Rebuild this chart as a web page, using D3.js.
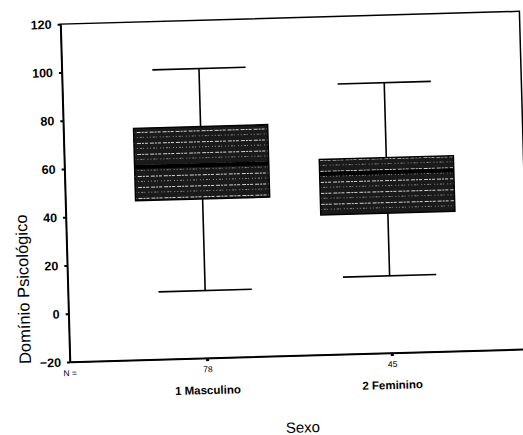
<!DOCTYPE html>
<html>
<head>
<meta charset="utf-8">
<script src="https://cdn.jsdelivr.net/npm/d3@7"></script>
<style>
  body { margin: 0; background: #fff; }
  svg { display: block; }
</style>
</head>
<body>
<div id="chart"></div>
<script>
// ------------------------------------
// Data
// ------------------------------------
const categories = ["1 Masculino", "2 Feminino"];
const nValues = [78, 45];
const minVals = [8, 12];
const q1Vals = [46, 38];
const medianVals = [60, 55];
const q3Vals = [76, 61];
const maxVals = [100, 92];
const yTicks = [-20, 0, 20, 40, 60, 80, 100, 120];

const width = 523, height = 435;
const plotLeft = 70, plotRight = 529, plotTop = 24, plotBottom = 362;

const svg = d3.select("#chart").append("svg")
    .attr("width", width)
    .attr("height", height);

// hatched fill like the scanned SPSS boxes
const defs = svg.append("defs");
const pat = defs.append("pattern")
    .attr("id", "hatch")
    .attr("patternUnits", "userSpaceOnUse")
    .attr("width", 13).attr("height", 11);
pat.append("rect").attr("width", 13).attr("height", 11).attr("fill", "#1a1a1a");
pat.append("line").attr("x1", 0).attr("x2", 13).attr("y1", 2.5).attr("y2", 2.5)
    .attr("stroke", "#e8e8e8").attr("stroke-width", 0.9).attr("stroke-dasharray", "4,1,2,1,3,2");
pat.append("line").attr("x1", 0).attr("x2", 13).attr("y1", 7.5).attr("y2", 7.5)
    .attr("stroke", "#bbb").attr("stroke-width", 0.7).attr("stroke-dasharray", "1,2,2,1,1,3");

// the scan is tilted a little, so the whole chart is rotated
const g = svg.append("g")
    .attr("transform", `rotate(-1.6, ${plotLeft}, ${plotBottom})`);

const x = d3.scalePoint()
    .domain(categories)
    .range([plotLeft, plotRight])
    .padding(0.742);

const y = d3.scaleLinear()
    .domain([-20, 120])
    .range([plotBottom, plotTop]);

const step = x.step();
const boxW = step * 0.726;
const capW = step * 0.505;

// frame
g.append("rect")
    .attr("x", plotLeft).attr("y", plotTop)
    .attr("width", plotRight - plotLeft).attr("height", plotBottom - plotTop)
    .attr("fill", "none").attr("stroke", "#000").attr("stroke-width", 1.5);

// y axis
const yAxis = g.append("g")
    .attr("transform", `translate(${plotLeft},0)`)
    .call(d3.axisLeft(y).tickValues(yTicks).tickSize(3).tickPadding(6).tickSizeOuter(0));
yAxis.select(".domain").attr("stroke-width", 1.5);
yAxis.selectAll(".tick line").attr("stroke-width", 2);
yAxis.selectAll(".tick text")
    .attr("font-family", "Liberation Sans, Arial, sans-serif")
    .attr("font-size", 12.5)
    .attr("font-weight", "bold")
    .attr("fill", "#000");

// x axis ticks (N values as tick labels)
const xAxis = g.append("g")
    .attr("transform", `translate(0,${plotBottom})`)
    .call(d3.axisBottom(x).tickSize(3).tickPadding(5).tickSizeOuter(0)
        .tickFormat((d, i) => nValues[i]));
xAxis.select(".domain").attr("stroke-width", 1.5);
xAxis.selectAll(".tick line").attr("stroke-width", 3);
xAxis.selectAll(".tick text")
    .attr("font-family", "Liberation Sans, Arial, sans-serif")
    .attr("font-size", 8.5)
    .attr("fill", "#000");

g.append("text")
    .attr("x", plotLeft - 7).attr("y", plotBottom + 14)
    .attr("font-family", "Liberation Sans, Arial, sans-serif")
    .attr("font-size", 8.5)
    .text("N =");

// category labels
g.selectAll("text.cat")
    .data(categories)
    .enter().append("text")
    .attr("class", "cat")
    .attr("x", d => x(d))
    .attr("y", plotBottom + 36)
    .attr("text-anchor", "middle")
    .attr("font-family", "Liberation Sans, Arial, sans-serif")
    .attr("font-size", 11.5)
    .attr("font-weight", "bold")
    .text(d => d);

// axis titles
g.append("text")
    .attr("x", 301).attr("y", 439)
    .attr("text-anchor", "middle")
    .attr("font-family", "Liberation Sans, Arial, sans-serif")
    .attr("font-size", 15)
    .text("Sexo");

g.append("text")
    .attr("transform", "translate(31,288) rotate(-90)")
    .attr("text-anchor", "middle")
    .attr("font-family", "Liberation Sans, Arial, sans-serif")
    .attr("font-size", 16.5)
    .text("Domínio Psicológico");

// boxes
const boxes = g.selectAll("g.box")
    .data(categories)
    .enter().append("g")
    .attr("class", "box");

// whiskers
boxes.append("line")
    .attr("x1", d => x(d)).attr("x2", d => x(d))
    .attr("y1", (d, i) => y(maxVals[i])).attr("y2", (d, i) => y(q3Vals[i]))
    .attr("stroke", "#000").attr("stroke-width", 1.6);
boxes.append("line")
    .attr("x1", d => x(d)).attr("x2", d => x(d))
    .attr("y1", (d, i) => y(q1Vals[i])).attr("y2", (d, i) => y(minVals[i]))
    .attr("stroke", "#000").attr("stroke-width", 1.6);
boxes.append("line")
    .attr("x1", d => x(d) - capW / 2).attr("x2", d => x(d) + capW / 2)
    .attr("y1", (d, i) => y(maxVals[i])).attr("y2", (d, i) => y(maxVals[i]))
    .attr("stroke", "#000").attr("stroke-width", 1.6);
boxes.append("line")
    .attr("x1", d => x(d) - capW / 2).attr("x2", d => x(d) + capW / 2)
    .attr("y1", (d, i) => y(minVals[i])).attr("y2", (d, i) => y(minVals[i]))
    .attr("stroke", "#000").attr("stroke-width", 1.6);

// box body
boxes.append("rect")
    .attr("x", d => x(d) - boxW / 2)
    .attr("width", boxW)
    .attr("y", (d, i) => y(q3Vals[i]))
    .attr("height", (d, i) => y(q1Vals[i]) - y(q3Vals[i]))
    .attr("fill", "url(#hatch)")
    .attr("stroke", "#000").attr("stroke-width", 1.5);

// median
boxes.append("line")
    .attr("x1", d => x(d) - boxW / 2).attr("x2", d => x(d) + boxW / 2)
    .attr("y1", (d, i) => y(medianVals[i])).attr("y2", (d, i) => y(medianVals[i]))
    .attr("stroke", "#000").attr("stroke-width", 4);
</script>
</body>
</html>
